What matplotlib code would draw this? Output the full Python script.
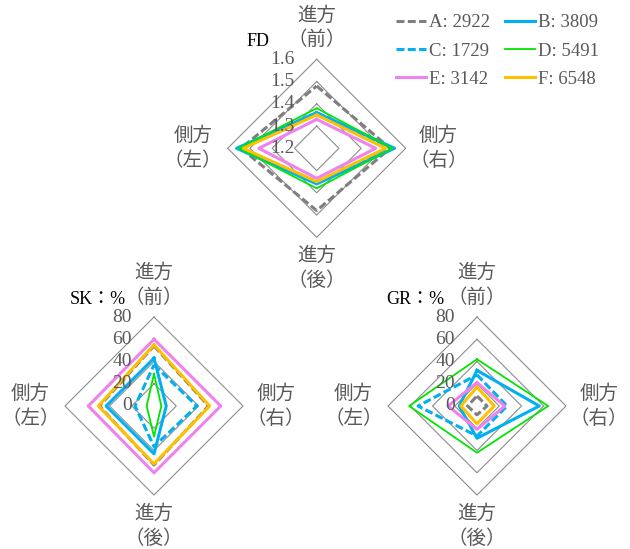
import numpy as np
import matplotlib
matplotlib.use("Agg")
import matplotlib.pyplot as plt

# axis order: front, right, back, left (clockwise from top)
axis_labels = ["進方\n（前）", "側方\n（右）", "進方\n（後）", "側方\n（左）"]
series = ["A: 2922", "B: 3809", "C: 1729", "D: 5491", "E: 3142", "F: 6548"]

fd_A = [1.48, 1.53, 1.48, 1.54]
fd_B = [1.36, 1.55, 1.36, 1.56]
fd_C = [1.36, 1.54, 1.35, 1.555]
fd_D = [1.38, 1.54, 1.38, 1.55]
fd_E = [1.33, 1.465, 1.335, 1.46]
fd_F = [1.35, 1.51, 1.35, 1.53]

sk_A = [54, 49, 53, 49]
sk_B = [43, 11, 43, 43]
sk_C = [37, 38.5, 36.5, 17]
sk_D = [29, 6.6, 27.5, 6.6]
sk_E = [60, 60, 60, 59]
sk_F = [55, 50, 52, 50]

gr_A = [9, 9, 8, 8.5]
gr_B = [32, 56, 29, 16]
gr_C = [28, 27, 27, 53]
gr_D = [42, 64, 42, 61]
gr_E = [21, 25, 21, 26]
gr_F = [17, 15.5, 16, 14.5]

fd_ticks = [1.2, 1.3, 1.4, 1.5, 1.6]
pct_ticks = [0, 20, 40, 60, 80]

colors = ["#7f7f7f", "#00b0f0", "#00b0f0", "#00e600", "#ee82ee", "#ffc000"]
dashed = [True, False, True, False, False, False]
widths = [2.2, 2.2, 2.2, 1.3, 2.2, 2.2]

W, H, DPI = 630, 549, 100
R = 89  # outer ring radius in px
angles = np.deg2rad([90, 0, -90, 180])
serif = "Liberation Serif"
cjk = "Noto Sans CJK JP"
txt_gray = "#595959"

fig = plt.figure(figsize=(W / DPI, H / DPI), dpi=DPI)


def radar(cx, cy, data, ticks, title, title_x):
    ax = fig.add_axes([(cx - 1.5 * R) / W, (H - cy - 1.5 * R) / H, 3 * R / W, 3 * R / H])
    ax.set_xlim(-1.5, 1.5)
    ax.set_ylim(-1.5, 1.5)
    ax.axis("off")
    lo, hi = ticks[0], ticks[-1]
    # grid diamonds
    for t in ticks[1:]:
        r = (t - lo) / (hi - lo)
        ax.plot(np.append(r * np.cos(angles), r * np.cos(angles[0])),
                np.append(r * np.sin(angles), r * np.sin(angles[0])),
                color="#8c8c8c", lw=0.8, zorder=1)
    lines = []
    for vals, c, d, lw in zip(data, colors, dashed, widths):
        r = (np.array(vals) - lo) / (hi - lo)
        x = np.append(r * np.cos(angles), r[0] * np.cos(angles[0]))
        y = np.append(r * np.sin(angles), r[0] * np.sin(angles[0]))
        ln, = ax.plot(x, y, color=c, lw=lw, zorder=2)
        if d:
            ln.set_dashes((2.6, 1.1))
        lines.append(ln)
    for t in ticks:
        r = (t - lo) / (hi - lo)
        lab = f"{t:g}" if lo > 0 else f"{t:d}"
        ax.text(-0.25, r, lab, ha="right", va="center", fontsize=14,
                family=serif, color=txt_gray, zorder=3)
    kw = dict(fontsize=14, family=cjk, color=txt_gray, linespacing=1.25,
              multialignment="center")
    ax.text(0, 1.1, axis_labels[0], ha="center", va="bottom", **kw)
    ax.text(1.04, 0, axis_labels[1], ha="left", va="center", **kw)
    ax.text(0, -1.09, axis_labels[2], ha="center", va="top", **kw)
    ax.text(-1.06, 0, axis_labels[3], ha="right", va="center", **kw)
    ax.text(title_x, 1.2, title, ha="left", va="center", fontsize=13,
            family=[serif, cjk], color="black")
    return lines


lines = radar(316.7, 148.3, [fd_A, fd_B, fd_C, fd_D, fd_E, fd_F], fd_ticks, "FD", -0.79)
radar(154, 406, [sk_A, sk_B, sk_C, sk_D, sk_E, sk_F], pct_ticks, "SK：%", -0.95)
radar(477, 406, [gr_A, gr_B, gr_C, gr_D, gr_E, gr_F], pct_ticks, "GR：%", -1.02)

order = [0, 2, 4, 1, 3, 5]
leg = fig.legend([lines[i] for i in order], [series[i] for i in order],
                 ncol=2, loc="upper left", bbox_to_anchor=(396 / W, 1 - 14 / H),
                 frameon=False, borderpad=0, borderaxespad=0,
                 handlelength=1.6, handletextpad=0.15, columnspacing=0.8,
                 labelspacing=0.6, prop={"family": serif, "size": 13.5})
for t in leg.get_texts():
    t.set_color(txt_gray)

fig.savefig("out.png", dpi=DPI)
